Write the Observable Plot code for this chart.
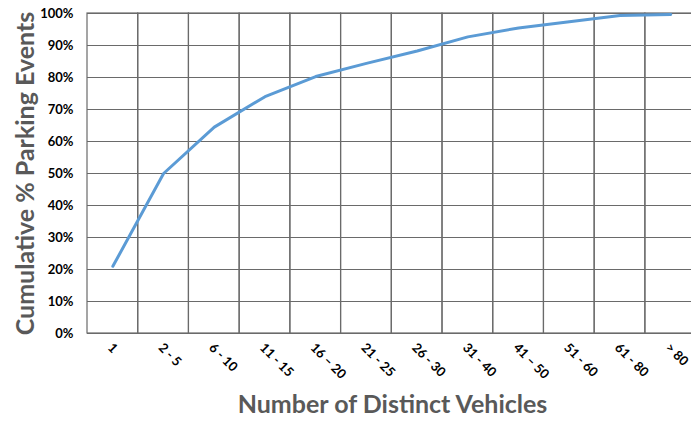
<!DOCTYPE html>
<html>
<head>
<meta charset="utf-8">
<script src="https://cdn.jsdelivr.net/npm/d3@7"></script>
<script src="https://cdn.jsdelivr.net/npm/@observablehq/plot@0.6"></script>
<style>
  html, body { margin: 0; padding: 0; background: white; overflow: hidden; }
  #chart svg { display: block; }
</style>
</head>
<body>
<div id="chart"></div>
<script>
const categories = ["1", "2 - 5", "6 - 10", "11 - 15", "16 \u2013 20", "21 - 25", "26 - 30", "31 - 40", "41 \u2013 50", "51 - 60", "61 - 80", "> 80"];
const values = [21, 50, 64.5, 74, 80.3, 84.4, 88.3, 92.7, 95.5, 97.4, 99.4, 99.7];
const xTitle = "Number of Distinct Vehicles";
const yTitle = "Cumulative % Parking Events";

const data = categories.map((c, i) => ({cat: c, value: values[i]}));
const gridColor = "#6a6a6a";
const font = "Lato, 'Open Sans', sans-serif";

const chart = Plot.plot({
  width: 691,
  height: 427,
  marginLeft: 87,
  marginTop: 13,
  marginBottom: 94,
  marginRight: 0,
  style: {fontFamily: font, background: "white", overflow: "hidden"},
  x: {type: "band", domain: categories, range: [87, 695.6], padding: 0, round: false},
  y: {domain: [0, 100]},
  marks: [
    Plot.barY(categories, {x: d => d, y1: 0, y2: 100, fill: "none", stroke: gridColor, strokeWidth: 1.2}),
    Plot.gridY({ticks: 10, stroke: gridColor, strokeOpacity: 1, strokeWidth: 1.2}),
    Plot.axisY({ticks: 10, tickSize: 0, tickPadding: 14, tickFormat: d => d + "%", label: null, fontSize: 13, fontWeight: "bold", fill: "black"}),
    Plot.axisX({tickSize: 0, tickPadding: 12, tickRotate: 45, dx: -3, label: null, fontSize: 13, fontWeight: "bold", fill: "black"}),
    Plot.lineY(data, {x: "cat", y: "value", stroke: "#5B9BD5", strokeWidth: 3}),
    Plot.text([yTitle], {frameAnchor: "left", textAnchor: "middle", text: d => d, rotate: -90, dx: -62, fontSize: 25, fontWeight: "bold", fill: "#595959"}),
    Plot.text([xTitle], {frameAnchor: "bottom", textAnchor: "middle", text: d => d, dy: 79, dx: 3, fontSize: 25, fontWeight: "bold", fill: "#595959"})
  ]
});
document.getElementById("chart").appendChild(chart);
</script>
</body>
</html>
